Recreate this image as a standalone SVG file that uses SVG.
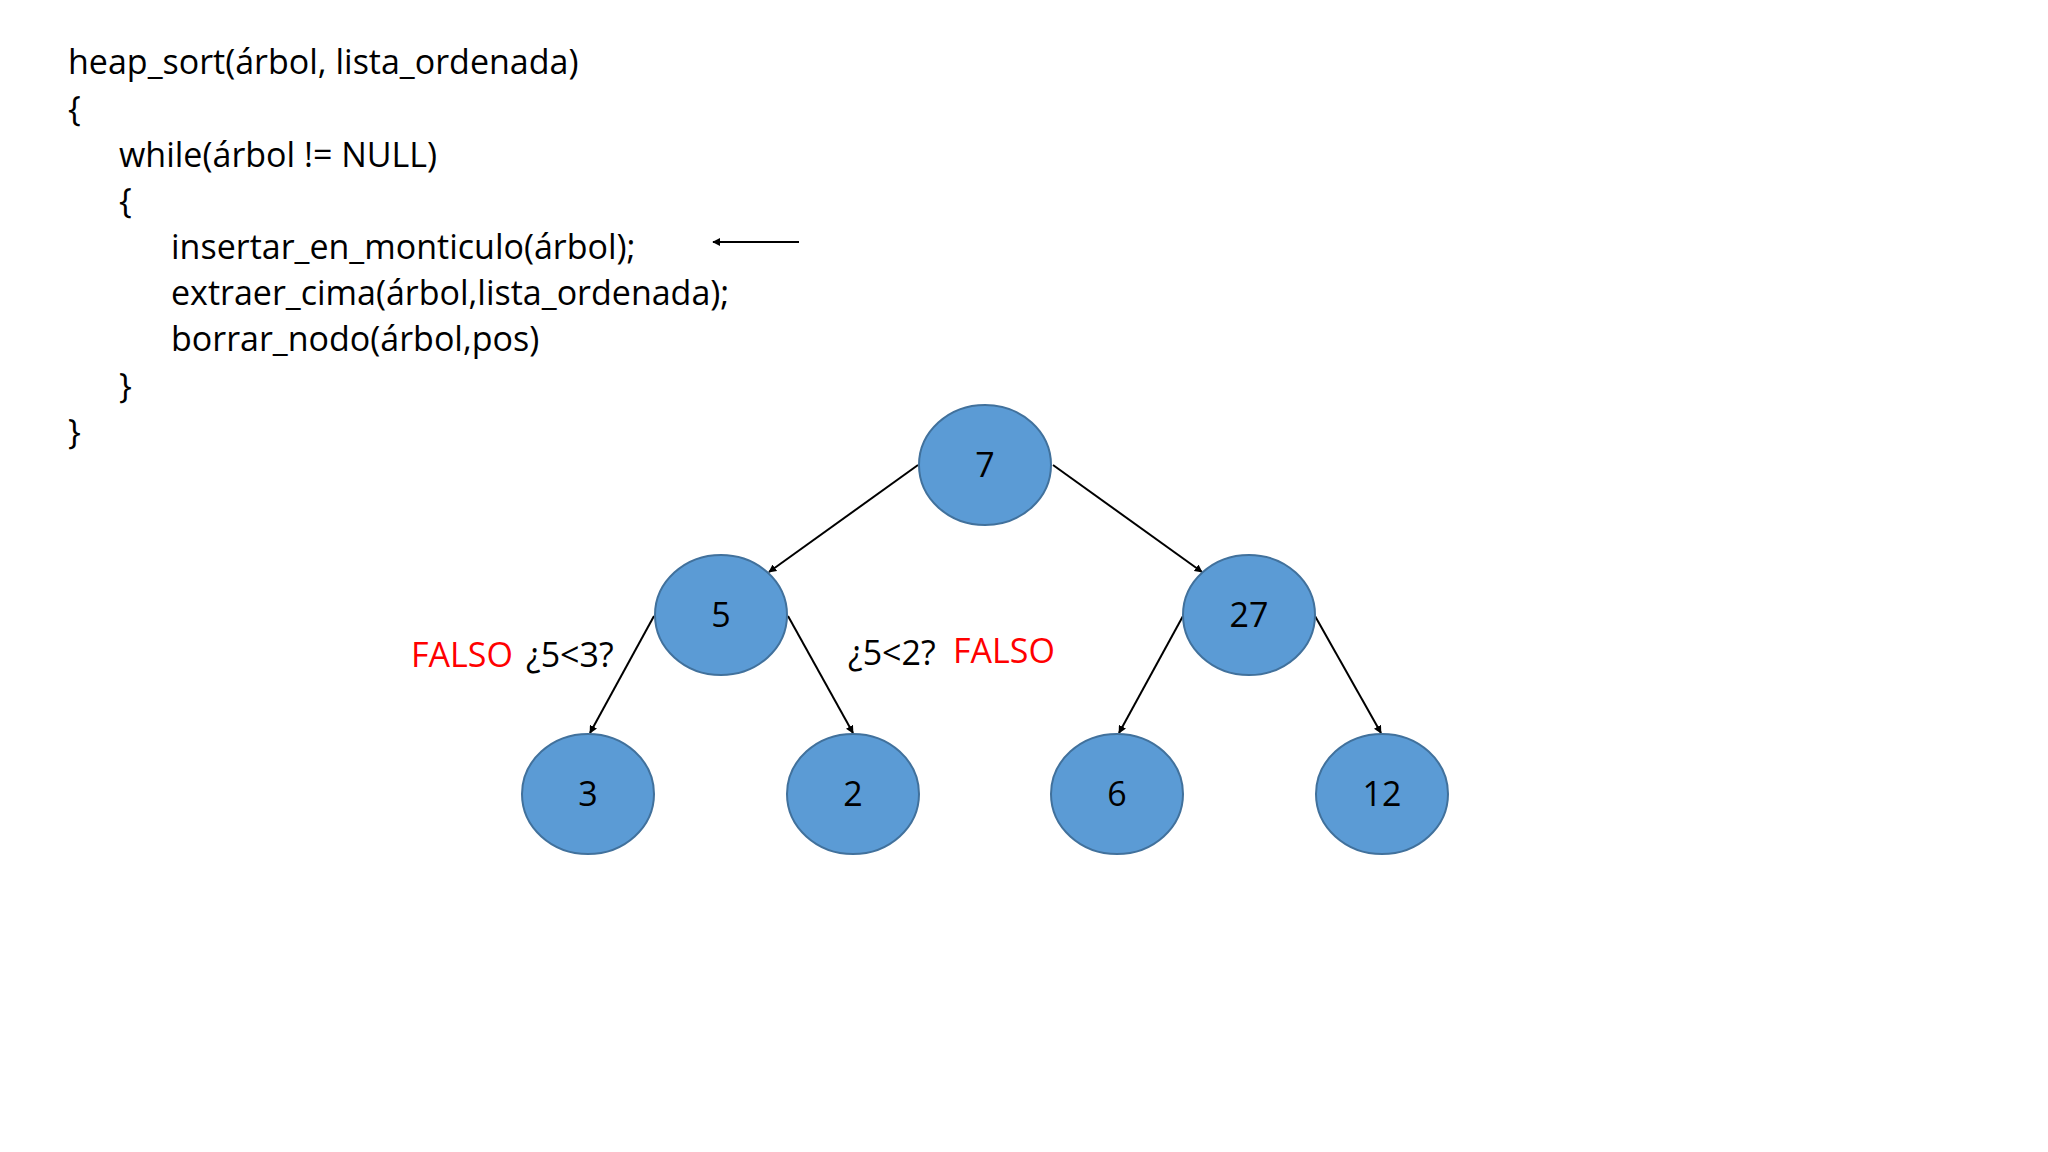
<svg xmlns="http://www.w3.org/2000/svg" width="2048" height="1152" viewBox="0 0 2048 1152">
<style>
text{font-family:"Open Sans","Noto Sans",sans-serif;font-size:34px;fill:#000}
.n ellipse{fill:#5B9BD5;stroke:#41719C;stroke-width:2}
.n text{text-anchor:middle}
.r{fill:#FF0000}
#edges line{stroke:#000;stroke-width:2;marker-end:url(#a)}
</style>
<defs><marker id="a" viewBox="0 0 10 10" refX="9" refY="5" markerWidth="8" markerHeight="8" orient="auto" markerUnits="userSpaceOnUse"><path d="M0,0L10,5L0,10z" fill="#000"/></marker></defs>
<rect width="2048" height="1152" fill="#fff"/>
<g id="code">
<text x="68" y="74">heap_sort(árbol, lista_ordenada)</text>
<text x="68" y="121">{</text>
<text x="119" y="167">while(árbol != NULL)</text>
<text x="119" y="213">{</text>
<text x="171" y="259">insertar_en_monticulo(árbol);</text>
<text x="171" y="305">extraer_cima(árbol,lista_ordenada);</text>
<text x="171" y="351">borrar_nodo(árbol,pos)</text>
<text x="119" y="398">}</text>
<text x="68" y="444">}</text>
</g>
<g id="edges">
<line x1="799" y1="242" x2="713" y2="242"/>
<line x1="918" y1="465" x2="769" y2="572"/>
<line x1="1053" y1="465" x2="1202" y2="572"/>
<line x1="654" y1="616" x2="590" y2="733"/>
<line x1="788" y1="616" x2="853" y2="733"/>
<line x1="1183" y1="616" x2="1119" y2="733"/>
<line x1="1315" y1="616" x2="1381" y2="733"/>
</g>
<g id="n7" class="n"><ellipse cx="985" cy="465" rx="66" ry="60"/><text x="985" y="477">7</text></g>
<g id="n5" class="n"><ellipse cx="721" cy="615" rx="66" ry="60"/><text x="721" y="627">5</text></g>
<g id="n27" class="n"><ellipse cx="1249" cy="615" rx="66" ry="60"/><text x="1249" y="627">27</text></g>
<g id="n3" class="n"><ellipse cx="588" cy="794" rx="66" ry="60"/><text x="588" y="806">3</text></g>
<g id="n2" class="n"><ellipse cx="853" cy="794" rx="66" ry="60"/><text x="853" y="806">2</text></g>
<g id="n6" class="n"><ellipse cx="1117" cy="794" rx="66" ry="60"/><text x="1117" y="806">6</text></g>
<g id="n12" class="n"><ellipse cx="1382" cy="794" rx="66" ry="60"/><text x="1382" y="806">12</text></g>
<g id="labels">
<text x="411" y="667" class="r">FALSO</text>
<text x="526" y="667">¿5&lt;3?</text>
<text x="848" y="665">¿5&lt;2?</text>
<text x="953" y="663" class="r">FALSO</text>
</g>
</svg>
